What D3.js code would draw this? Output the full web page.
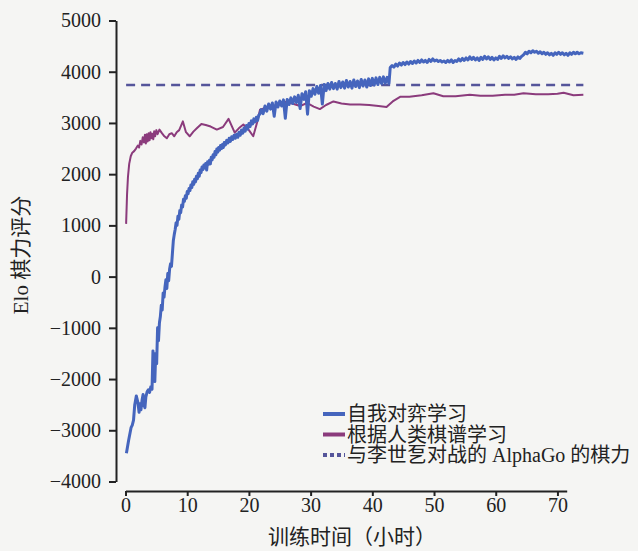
<!DOCTYPE html>
<html>
<head>
<meta charset="utf-8">
<script src="https://cdn.jsdelivr.net/npm/d3@7"></script>
<style>
  body { margin: 0; background: #f5f5f3; }
  svg { display: block; }
  .axis text { font-family: "Liberation Serif", serif; font-size: 20px; fill: #222; }
  .axis path, .axis line { stroke: #222; stroke-width: 2; }
</style>
</head>
<body>
<div id="canvas"></div>
<script>
// self-play training (hours, Elo)
const selfPlay = [
  [0.15,-3450],[0.5,-3200],[0.9,-2950],[1.1,-2900],[1.3,-2800],[1.5,-2500],[1.75,-2330],[2.0,-2450],[2.2,-2650],[2.35,-2480],
  [2.5,-2600],[2.7,-2400],[2.85,-2300],[3.0,-2500],[3.15,-2560],[3.3,-2350],[3.5,-2250],[3.7,-2210],[3.9,-2260],[4.1,-2150],
  [4.3,-2200],[4.45,-1450],[4.6,-1800],[4.75,-2050],[4.9,-1500],[5.05,-1700],[5.2,-1000],[5.35,-1250],[5.5,-900],[5.65,-780],
  [5.8,-560],[5.95,-650],[6.1,-320],[6.25,-400],[6.4,-200],[6.55,-60],[6.7,-230],[6.85,60],[7.0,-80],[7.15,150],
  [7.3,250],[7.45,200],[7.6,450],[7.75,700],[7.9,820],
  [8.05,920],[8.2,1050],[8.35,1000],[8.5,1180],[8.65,1120],[8.8,1290],[8.95,1250],[9.1,1400],[9.25,1360],[9.4,1510],
  [9.55,1470],[9.7,1580],[9.85,1530],[10.0,1660],[10.15,1620],[10.3,1720],[10.45,1680],[10.6,1790],[10.75,1740],[10.9,1850],
  [11.05,1800],[11.2,1900],[11.35,1850],[11.5,1960],[11.65,1910],[11.8,2020],[11.95,1960],[12.1,2080],[12.25,2030],[12.4,2140],
  [12.55,2090],[12.7,2180],[12.85,2120],[13.0,2210],[13.15,2080],[13.3,2240],[13.45,2190],[13.6,2270],[13.75,2200],[13.9,2330],
  [14.05,2280],[14.2,2380],[14.35,2330],[14.5,2440],[14.65,2380],[14.8,2490],[14.95,2430],[15.1,2520],[15.25,2470],[15.4,2560],
  [15.55,2500],[15.7,2580],[15.85,2520],[16.0,2620],[16.2,2570],[16.4,2660],[16.6,2610],[16.8,2700],[17.0,2640],[17.2,2730],
  [17.4,2680],[17.6,2760],[17.8,2700],[18.0,2780],[18.2,2720],[18.4,2820],[18.6,2760],[18.8,2860],[19.0,2800],[19.2,2900],
  [19.4,2840],[19.6,2950],[19.8,2880],[20.0,2990],[20.2,2930],[20.4,3040],[20.6,2980],[20.8,3080],[21.0,3020],[21.2,3110],
  [21.4,3050],[21.6,3150],[21.8,3180],
  [22.0,3260],[22.3,3180],[22.6,3330],[22.9,3230],[23.2,3370],[23.5,3270],[23.8,3390],[24.1,3130],[24.4,3410],[24.7,3310],
  [25.0,3430],[25.3,3330],[25.6,3450],[25.9,3090],[26.2,3460],[26.5,3360],[26.8,3490],[27.1,3380],[27.4,3510],[27.7,3400],
  [28.0,3540],[28.3,3280],[28.6,3570],[28.9,3460],[29.2,3610],[29.5,3170],[29.8,3630],[30.1,3520],[30.4,3670],[30.7,3560],
  [31.0,3710],[31.3,3580],[31.6,3730],[31.9,3370],[32.2,3750],[32.5,3630],[32.8,3770],[33.1,3660],[33.4,3790],[33.7,3670],
  [34.0,3770],[34.3,3660],[34.6,3810],[34.9,3690],[35.2,3800],[35.5,3680],[35.8,3830],[36.1,3700],[36.4,3810],[36.7,3680],
  [37.0,3840],[37.3,3710],[37.6,3820],[37.9,3690],[38.2,3850],[38.5,3720],[38.8,3840],[39.1,3700],[39.4,3860],[39.7,3730],
  [40.0,3870],[40.3,3740],[40.6,3880],[40.9,3750],[41.2,3890],[41.5,3770],[41.8,3900],[42.1,3780],[42.4,3890],[42.7,3770],
  [42.9,4080],[43.2,4120],[43.5,4090],[43.8,4150],[44.1,4110],[44.4,4170],[44.7,4130],[45.0,4180],[45.3,4140],[45.6,4190],
  [45.9,4150],[46.2,4200],[46.5,4160],[46.8,4210],[47.1,4170],[47.4,4220],[47.7,4180],[48.0,4230],[48.3,4190],[48.6,4220],
  [48.9,4180],[49.2,4240],[49.5,4200],[49.8,4250],[50.1,4210],[50.4,4230],[50.7,4200],[51.0,4220],[51.3,4190],[51.6,4210],
  [51.9,4180],[52.2,4220],[52.5,4190],[52.8,4230],[53.1,4180],[53.4,4220],[53.7,4200],[54.0,4250],[54.3,4210],[54.6,4260],
  [54.9,4220],[55.2,4270],[55.5,4230],[55.8,4290],[56.1,4240],[56.4,4280],[56.7,4230],[57.0,4270],[57.3,4220],[57.6,4280],
  [57.9,4240],[58.2,4300],[58.5,4250],[58.8,4290],[59.1,4240],[59.4,4280],[59.7,4230],[60.0,4270],[60.3,4240],[60.6,4300],
  [60.9,4260],[61.2,4310],[61.5,4270],[61.8,4300],[62.1,4260],[62.4,4290],[62.7,4250],[63.0,4280],[63.3,4240],[63.6,4290],
  [63.9,4260],[64.2,4300],[64.5,4330],[64.8,4380],[65.1,4350],[65.4,4400],[65.7,4370],[66.0,4410],[66.3,4380],[66.6,4400],
  [66.9,4360],[67.2,4390],[67.5,4350],[67.8,4380],[68.1,4340],[68.4,4370],[68.7,4330],[69.0,4360],[69.3,4320],[69.6,4370],
  [69.9,4340],[70.2,4380],[70.5,4340],[70.8,4370],[71.1,4330],[71.4,4360],[71.7,4320],[72.0,4370],[72.3,4340],[72.6,4380],
  [72.9,4350],[73.2,4380],[73.5,4350],[73.8,4370],[74.2,4360]
];

// supervised learning from human games (hours, Elo)
const humanData = [
  [0.1,1030],[0.25,1600],[0.4,1950],[0.6,2200],[0.85,2350],[1.1,2420],[1.4,2450],[1.7,2500],[2.0,2560],[2.2,2520],
  [2.4,2650],[2.6,2580],[2.8,2720],[3.0,2620],[3.15,2770],[3.3,2600],[3.45,2780],[3.6,2640],[3.75,2800],[3.9,2660],
  [4.05,2820],[4.2,2700],[4.35,2790],[4.5,2680],[4.65,2840],[4.8,2740],[5.0,2860],[5.2,2780],[5.5,2870],[5.9,2800],
  [6.3,2740],[6.7,2700],[7.1,2780],[7.5,2800],[7.9,2740],[8.3,2820],[8.7,2860],[9.3,3030],[9.8,2820],[10.4,2740],
  [11.0,2830],[11.6,2900],[12.3,2980],[13.0,2960],[13.8,2930],[14.8,2870],[15.8,2920],[16.7,3080],[17.7,2810],[18.4,2900],
  [19.1,2970],[20.0,2860],[20.7,2740],[21.3,3000],[21.8,3260],[22.8,3300],[24.0,3330],[25.6,3420],[27.0,3380],[28.3,3330],
  [29.4,3390],[30.5,3320],[31.5,3270],[32.5,3350],[33.7,3420],[35.0,3380],[36.4,3360],[38.0,3360],[39.5,3350],[41.0,3330],
  [42.3,3310],[43.3,3420],[44.5,3510],[46.0,3510],[48.0,3540],[49.9,3580],[51.5,3520],[53.5,3520],[55.8,3550],[57.5,3530],
  [59.5,3530],[61.5,3550],[63.0,3550],[64.5,3580],[66.5,3560],[68.5,3560],[70.0,3570],[71.0,3590],[72.6,3540],[74.2,3550]
];

// AlphaGo Lee reference level
const alphaGoLee = 3739;
const lineEnd = [0.1, 74.2];

const yTicks = [-4000, -3000, -2000, -1000, 0, 1000, 2000, 3000, 4000, 5000];
const xTicks = [0, 10, 20, 30, 40, 50, 60, 70];

const legendItems = [
  { label: "自我对弈学习", color: "#4565bd", dash: null },
  { label: "根据人类棋谱学习", color: "#8b3b7c", dash: null },
  { label: "与李世乭对战的 AlphaGo 的棋力", color: "#55559a", dash: "4,3" }
];

let width = 638, height = 551;

let svg = d3.select("#canvas")
  .append("svg")
  .attr("width", width)
  .attr("height", height);

let x = d3.scaleLinear().domain([0, 71.5]).range([125.5, 566.7]);
let y = d3.scaleLinear().domain([-4000, 5000]).range([481.5, 20.5]);

// axes
svg.append("g")
  .attr("class", "axis")
  .attr("transform", "translate(116,0)")
  .call(d3.axisLeft(y).tickValues(yTicks).tickFormat(d => d < 0 ? "\u2212" + Math.abs(d) : d)
    .tickSize(7).tickSizeOuter(0).tickPadding(8));

svg.append("g")
  .attr("class", "axis")
  .attr("transform", "translate(0,491)")
  .call(d3.axisBottom(x).tickValues(xTicks).tickSize(5).tickSizeOuter(0).tickPadding(2));

// AlphaGo Lee dashed line
svg.append("line")
  .attr("x1", x(lineEnd[0])).attr("x2", x(lineEnd[1]))
  .attr("y1", y(alphaGoLee)).attr("y2", y(alphaGoLee))
  .attr("stroke", "#55559a")
  .attr("stroke-width", 2.5)
  .attr("stroke-dasharray", "9,6");

let line = d3.line().x(d => x(d[0])).y(d => y(d[1]));

svg.append("path")
  .datum(humanData)
  .attr("d", line)
  .attr("fill", "none")
  .attr("stroke", "#8b3b7c")
  .attr("stroke-width", 2)
  .attr("stroke-linejoin", "round");

svg.append("path")
  .datum(selfPlay)
  .attr("d", line)
  .attr("fill", "none")
  .attr("stroke", "#4565bd")
  .attr("stroke-width", 3)
  .attr("stroke-linejoin", "round");

// legend
let legend = svg.selectAll(".legend")
  .data(legendItems)
  .enter()
  .append("g")
  .attr("class", "legend")
  .attr("transform", (d, i) => "translate(323," + (414 + i * 20.5) + ")");

legend.append("line")
  .attr("x1", 0).attr("x2", 22)
  .attr("stroke", d => d.color)
  .attr("stroke-width", 4)
  .attr("stroke-dasharray", d => d.dash);

legend.append("text")
  .attr("x", 24)
  .attr("dy", "0.36em")
  .style("font-family", "'Liberation Serif', 'Noto Sans CJK SC', serif")
  .style("font-size", "20px")
  .style("fill", "#222")
  .text(d => d.label);

// axis titles
svg.append("text")
  .attr("x", 352)
  .attr("y", 536)
  .attr("dy", "0.36em")
  .attr("text-anchor", "middle")
  .style("font-family", "'Noto Sans CJK SC', sans-serif")
  .style("font-size", "21px")
  .style("fill", "#222")
  .text("训练时间（小时）");

svg.append("text")
  .attr("transform", "translate(20,255) rotate(-90)")
  .attr("dy", "0.36em")
  .attr("text-anchor", "middle")
  .style("font-family", "'Liberation Serif', 'Noto Sans CJK SC', serif")
  .style("font-size", "21px")
  .style("fill", "#222")
  .text("Elo 棋力评分");
</script>
</body>
</html>
